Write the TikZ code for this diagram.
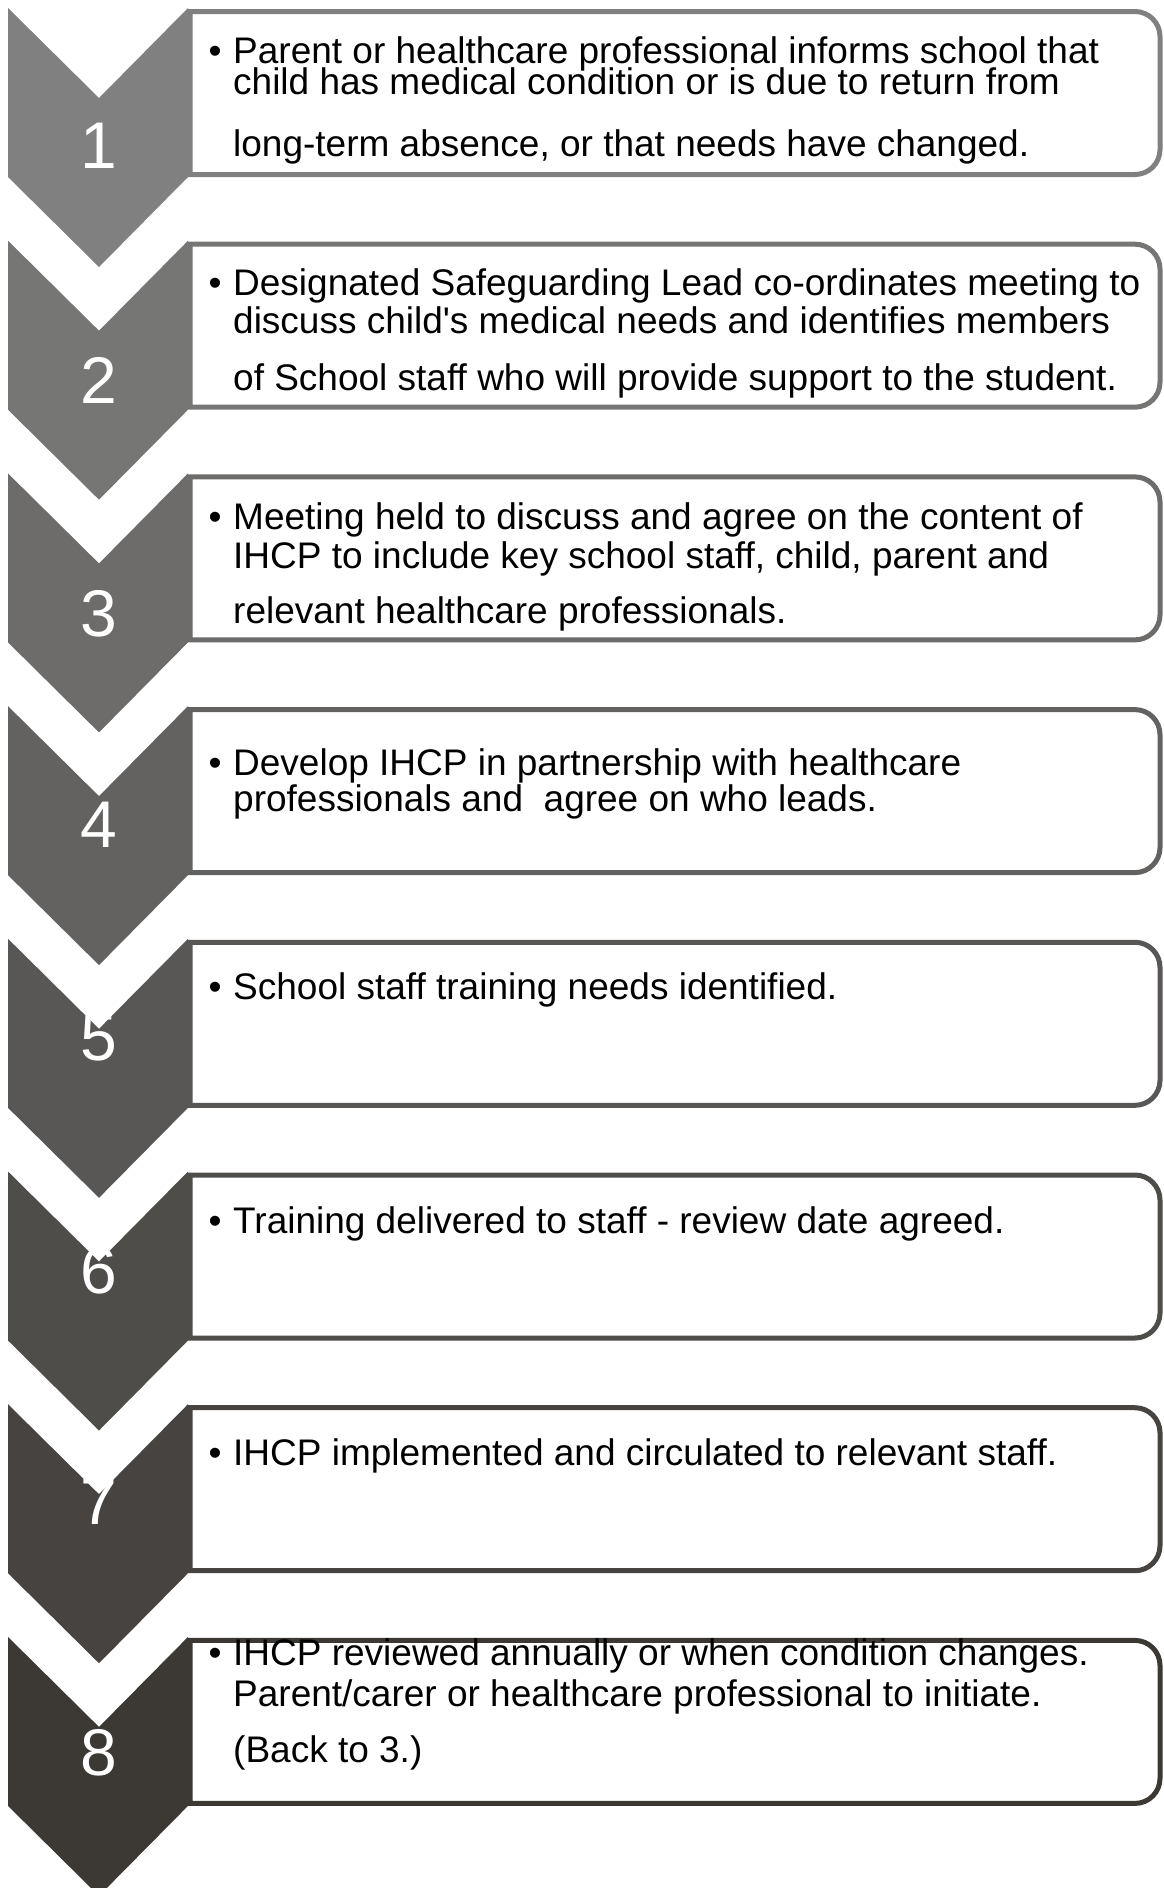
\documentclass[tikz,border=0pt]{standalone}
\usepackage{fontspec}
\setmainfont{Liberation Sans}
\definecolor{steplight}{HTML}{808080}
\definecolor{stepdark}{HTML}{3C3935}
\tikzset{
  stepbox/.style={draw=#1, line width=5pt, fill=white},
  txt/.style={anchor=base west, inner sep=0pt, font=\fontsize{37}{40}\selectfont},
  bul/.style={anchor=base, inner sep=0pt, font=\fontsize{37}{40}\selectfont},
  num/.style={text=white, inner sep=0pt, font=\fontsize{66}{70}\selectfont},
}

\begin{document}
\begin{tikzpicture}[x=1pt,y=-1pt]
\clip (0,0) rectangle (1164,1888);
% chevrons and boxes
\foreach \i in {0,...,7}{
  \pgfmathsetmacro{\T}{8+232.7*\i}
  \pgfmathsetmacro{\mixp}{\i*100/7}
  \colorlet{stepcol}{stepdark!\mixp!steplight}
  \draw[stepbox=stepcol] (190,\T+3.5) [rounded corners=25pt] -- (1160,\T+3.5) -- (1160,\T+166.5) [sharp corners] -- (190,\T+166.5) -- cycle;
  \fill[stepcol] (8,\T) -- (99,\T+90) -- (188,\T) -- (188,\T+169) -- (99,\T+259) -- (8,\T+169) -- cycle;
}
% numbers
\node[num] (n1) at (99,146) {1};
\node[num] (n2) at (99,380) {2};
\node[num] (n3) at (99,614) {3};
\node[num] (n4) at (99,825) {4};
\node[num] (n5) at (99,1038) {5};
\node[num] (n6) at (99,1271) {6};
\node[num] (n7) at (99,1502) {7};
\node[num] (n8) at (99,1753) {8};
% step 1
\node[bul] (b1) at (215,63) {•};
\node[txt] (t1a) at (233,63) {Parent or healthcare professional informs school that};
\node[txt] (t1b) at (233,94) {child has medical condition or is due to return from};
\node[txt] (t1c) at (233,156) {long-term absence, or that needs have changed.};
% step 2
\node[bul] (b2) at (215,295) {•};
\node[txt] (t2a) at (233,295) {Designated Safeguarding Lead co-ordinates meeting to};
\node[txt] (t2b) at (233,333) {discuss child\textquotesingle s medical needs and identifies members};
\node[txt] (t2c) at (233,390) {of School staff who will provide support to the student.};
% step 3
\node[bul] (b3) at (215,529) {•};
\node[txt] (t3a) at (233,529) {Meeting held to discuss and agree on the content of};
\node[txt] (t3b) at (233,568) {IHCP to include key school staff, child, parent and};
\node[txt] (t3c) at (233,623) {relevant healthcare professionals.};
% step 4
\node[bul] (b4) at (215,775) {•};
\node[txt] (t4a) at (233,775) {Develop IHCP in partnership with healthcare};
\node[txt] (t4b) at (233,811) {professionals and~ agree on who leads.};
% steps 5 to 7
\node[bul] (b5) at (215,999) {•};
\node[txt] (t5a) at (233,999) {School staff training needs identified.};
\node[bul] (b6) at (215,1233) {•};
\node[txt] (t6a) at (233,1233) {Training delivered to staff - review date agreed.};
\node[bul] (b7) at (215,1465) {•};
\node[txt] (t7a) at (233,1465) {IHCP implemented and circulated to relevant staff.};
% step 8
\node[bul] (b8) at (215,1665) {•};
\node[txt] (t8a) at (233,1665) {IHCP reviewed annually or when condition changes.};
\node[txt] (t8b) at (233,1706) {Parent/carer or healthcare professional to initiate.};
\node[txt] (t8c) at (233,1762) {(Back to 3.)};
\end{tikzpicture}
\end{document}
